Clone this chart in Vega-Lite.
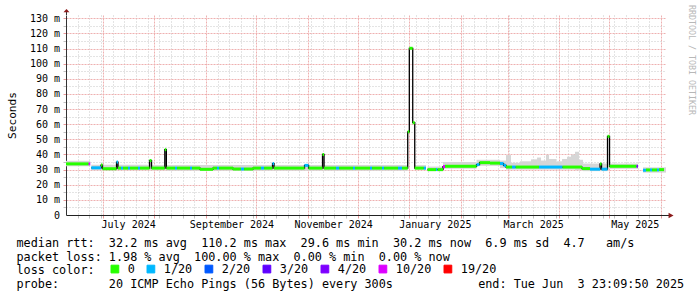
{
  "$schema": "https://vega.github.io/schema/vega-lite/v6.json",
  "width": 600,
  "height": 200,
  "autosize": {"type": "none"},
  "padding": {"left": 66, "top": 15, "right": 31, "bottom": 82},
  "background": "#ffffff",
  "config": {"view": {"stroke": null}},
  "title": {"text": "RRDTOOL / TOBI OETIKER", "orient": "right", "anchor": "start", "frame": "group", "offset": -1, "baseline": "middle", "font": "DejaVu Sans Mono", "fontSize": 8.3, "fontWeight": "normal", "color": "#b8b8b8", "dx": -10},
  "resolve": {"axis": {"x": "independent", "y": "independent"}},
  "datasets": {
    "median": [
      {"t0":"2024-06-08T23:10Z","t1":"2024-06-22T13:00Z","med":33.8,"loss":"0"},
      {"t0":"2024-06-22T13:00Z","t1":"2024-06-23T12:00Z","med":33.8,"loss":"10/20"},
      {"t0":"2024-06-23T12:00Z","t1":null,"med":null,"loss":null},
      {"t0":"2024-06-24T04:00Z","t1":"2024-06-29T23:30Z","med":31.2,"loss":"1/20"},
      {"t0":"2024-06-29T23:30Z","t1":"2024-06-30T21:00Z","med":33.0,"loss":"0"},
      {"t0":"2024-06-30T21:00Z","t1":"2024-07-09T07:00Z","med":30.6,"loss":"0"},
      {"t0":"2024-07-09T07:00Z","t1":"2024-07-10T04:00Z","med":35.0,"loss":"1/20"},
      {"t0":"2024-07-10T04:00Z","t1":"2024-07-11T23:30Z","med":31.0,"loss":"0"},
      {"t0":"2024-07-11T23:30Z","t1":"2024-07-13T04:00Z","med":31.0,"loss":"1/20"},
      {"t0":"2024-07-13T04:00Z","t1":"2024-07-16T04:00Z","med":31.0,"loss":"0"},
      {"t0":"2024-07-16T04:00Z","t1":"2024-07-17T09:00Z","med":31.0,"loss":"1/20"},
      {"t0":"2024-07-17T09:00Z","t1":"2024-07-22T04:00Z","med":31.0,"loss":"0"},
      {"t0":"2024-07-22T04:00Z","t1":"2024-07-23T09:00Z","med":31.0,"loss":"1/20"},
      {"t0":"2024-07-23T09:00Z","t1":"2024-07-29T02:00Z","med":31.0,"loss":"0"},
      {"t0":"2024-07-29T02:00Z","t1":"2024-07-30T07:00Z","med":36.0,"loss":"0"},
      {"t0":"2024-07-30T07:00Z","t1":"2024-08-07T06:00Z","med":31.0,"loss":"0"},
      {"t0":"2024-08-07T06:00Z","t1":"2024-08-08T04:00Z","med":43.2,"loss":"0"},
      {"t0":"2024-08-08T04:00Z","t1":"2024-08-13T09:00Z","med":31.0,"loss":"0"},
      {"t0":"2024-08-13T09:00Z","t1":"2024-08-14T14:00Z","med":31.0,"loss":"1/20"},
      {"t0":"2024-08-14T14:00Z","t1":"2024-08-22T09:00Z","med":31.0,"loss":"0"},
      {"t0":"2024-08-22T09:00Z","t1":"2024-08-23T14:00Z","med":31.0,"loss":"1/20"},
      {"t0":"2024-08-23T14:00Z","t1":"2024-08-28T09:00Z","med":31.0,"loss":"0"},
      {"t0":"2024-08-28T09:00Z","t1":"2024-09-05T04:00Z","med":30.2,"loss":"0"},
      {"t0":"2024-09-05T04:00Z","t1":"2024-09-07T14:00Z","med":31.0,"loss":"0"},
      {"t0":"2024-09-07T14:00Z","t1":"2024-09-08T19:00Z","med":31.0,"loss":"1/20"},
      {"t0":"2024-09-08T19:00Z","t1":"2024-09-17T04:00Z","med":31.0,"loss":"0"},
      {"t0":"2024-09-17T04:00Z","t1":"2024-09-21T23:30Z","med":30.4,"loss":"0"},
      {"t0":"2024-09-21T23:30Z","t1":"2024-09-23T19:00Z","med":30.4,"loss":"1/20"},
      {"t0":"2024-09-23T19:00Z","t1":"2024-09-29T04:00Z","med":30.4,"loss":"0"},
      {"t0":"2024-09-29T04:00Z","t1":"2024-10-03T23:30Z","med":31.0,"loss":"0"},
      {"t0":"2024-10-03T23:30Z","t1":"2024-10-05T19:00Z","med":31.0,"loss":"1/20"},
      {"t0":"2024-10-05T19:00Z","t1":"2024-10-10T21:00Z","med":31.0,"loss":"0"},
      {"t0":"2024-10-10T21:00Z","t1":"2024-10-11T19:00Z","med":34.0,"loss":"1/20"},
      {"t0":"2024-10-11T19:00Z","t1":"2024-10-30T02:00Z","med":31.0,"loss":"0"},
      {"t0":"2024-10-30T02:00Z","t1":"2024-11-01T12:00Z","med":32.8,"loss":"1/20"},
      {"t0":"2024-11-01T12:00Z","t1":"2024-11-09T21:00Z","med":31.0,"loss":"0"},
      {"t0":"2024-11-09T21:00Z","t1":"2024-11-10T19:00Z","med":40.0,"loss":"0"},
      {"t0":"2024-11-10T19:00Z","t1":"2024-11-17T23:30Z","med":31.0,"loss":"0"},
      {"t0":"2024-11-17T23:30Z","t1":"2024-11-19T19:00Z","med":31.0,"loss":"1/20"},
      {"t0":"2024-11-19T19:00Z","t1":"2024-11-28T04:00Z","med":31.0,"loss":"0"},
      {"t0":"2024-11-28T04:00Z","t1":"2024-11-29T09:00Z","med":31.0,"loss":"1/20"},
      {"t0":"2024-11-29T09:00Z","t1":"2024-12-08T09:00Z","med":31.0,"loss":"0"},
      {"t0":"2024-12-08T09:00Z","t1":"2024-12-09T14:00Z","med":31.0,"loss":"1/20"},
      {"t0":"2024-12-09T14:00Z","t1":"2024-12-15T14:00Z","med":31.0,"loss":"0"},
      {"t0":"2024-12-15T14:00Z","t1":"2024-12-16T19:00Z","med":31.0,"loss":"1/20"},
      {"t0":"2024-12-16T19:00Z","t1":"2024-12-25T04:00Z","med":31.0,"loss":"0"},
      {"t0":"2024-12-25T04:00Z","t1":"2024-12-27T14:00Z","med":31.0,"loss":"1/20"},
      {"t0":"2024-12-27T14:00Z","t1":"2024-12-31T00:00Z","med":31.0,"loss":"0"},
      {"t0":"2024-12-31T00:00Z","t1":"2024-12-31T23:00Z","med":55.0,"loss":"0"},
      {"t0":"2024-12-31T23:00Z","t1":"2025-01-03T00:00Z","med":110.2,"loss":"0"},
      {"t0":"2025-01-03T00:00Z","t1":"2025-01-04T05:00Z","med":61.0,"loss":"0"},
      {"t0":"2025-01-04T05:00Z","t1":"2025-01-09T16:00Z","med":31.0,"loss":"0"},
      {"t0":"2025-01-09T16:00Z","t1":"2025-01-10T23:30Z","med":31.0,"loss":"1/20"},
      {"t0":"2025-01-10T23:30Z","t1":null,"med":null,"loss":null},
      {"t0":"2025-01-11T21:00Z","t1":"2025-01-16T23:30Z","med":30.0,"loss":"0"},
      {"t0":"2025-01-16T23:30Z","t1":"2025-01-17T21:00Z","med":30.0,"loss":"1/20"},
      {"t0":"2025-01-17T21:00Z","t1":"2025-01-21T04:00Z","med":30.0,"loss":"0"},
      {"t0":"2025-01-21T04:00Z","t1":"2025-01-22T09:00Z","med":32.0,"loss":"10/20"},
      {"t0":"2025-01-22T09:00Z","t1":"2025-02-10T07:00Z","med":32.2,"loss":"0"},
      {"t0":"2025-02-10T07:00Z","t1":"2025-02-12T02:00Z","med":33.3,"loss":"1/20"},
      {"t0":"2025-02-12T02:00Z","t1":"2025-02-18T09:00Z","med":34.6,"loss":"0"},
      {"t0":"2025-02-18T09:00Z","t1":"2025-02-24T09:00Z","med":34.3,"loss":"0"},
      {"t0":"2025-02-24T09:00Z","t1":"2025-02-26T12:00Z","med":34.0,"loss":"1/20"},
      {"t0":"2025-02-26T12:00Z","t1":"2025-02-27T23:30Z","med":32.8,"loss":"1/20"},
      {"t0":"2025-02-27T23:30Z","t1":"2025-03-03T14:00Z","med":31.7,"loss":"0"},
      {"t0":"2025-03-03T14:00Z","t1":"2025-03-05T19:00Z","med":31.7,"loss":"1/20"},
      {"t0":"2025-03-05T19:00Z","t1":"2025-03-19T19:00Z","med":31.7,"loss":"0"},
      {"t0":"2025-03-19T19:00Z","t1":"2025-04-02T21:00Z","med":31.7,"loss":"1/20"},
      {"t0":"2025-04-02T21:00Z","t1":"2025-04-14T14:00Z","med":31.7,"loss":"0"},
      {"t0":"2025-04-14T14:00Z","t1":"2025-04-19T09:00Z","med":30.7,"loss":"0"},
      {"t0":"2025-04-19T09:00Z","t1":"2025-04-25T09:00Z","med":30.3,"loss":"1/20"},
      {"t0":"2025-04-25T09:00Z","t1":"2025-04-26T07:00Z","med":33.7,"loss":"0"},
      {"t0":"2025-04-26T07:00Z","t1":"2025-04-29T21:00Z","med":30.3,"loss":"1/20"},
      {"t0":"2025-04-29T21:00Z","t1":"2025-05-01T02:00Z","med":52.0,"loss":"0"},
      {"t0":"2025-05-01T02:00Z","t1":"2025-05-17T07:00Z","med":32.2,"loss":"0"},
      {"t0":"2025-05-17T07:00Z","t1":"2025-05-18T04:00Z","med":32.2,"loss":"4/20"},
      {"t0":"2025-05-18T04:00Z","t1":null,"med":null,"loss":null},
      {"t0":"2025-05-21T04:00Z","t1":"2025-05-22T23:30Z","med":29.6,"loss":"1/20"},
      {"t0":"2025-05-22T23:30Z","t1":"2025-05-25T09:00Z","med":29.8,"loss":"0"},
      {"t0":"2025-05-25T09:00Z","t1":"2025-05-26T14:00Z","med":29.8,"loss":"1/20"},
      {"t0":"2025-05-26T14:00Z","t1":"2025-05-29T14:00Z","med":29.8,"loss":"0"},
      {"t0":"2025-05-29T14:00Z","t1":"2025-05-30T19:00Z","med":29.8,"loss":"1/20"},
      {"t0":"2025-05-30T19:00Z","t1":"2025-06-02T19:00Z","med":30.0,"loss":"0"}
    ],
    "smoke": [
      {"t0":"2024-06-08T23:10Z","t1":"2024-06-23T12:00Z","lo":32.2,"hi":35.8},
      {"t0":"2024-06-24T04:00Z","t1":"2024-07-29T02:00Z","lo":29.5,"hi":33.2},
      {"t0":"2024-07-29T02:00Z","t1":"2024-07-30T07:00Z","lo":29.5,"hi":36.8},
      {"t0":"2024-07-30T07:00Z","t1":"2024-08-07T06:00Z","lo":29.5,"hi":33.0},
      {"t0":"2024-08-07T06:00Z","t1":"2024-08-08T04:00Z","lo":29.5,"hi":44.0},
      {"t0":"2024-08-08T04:00Z","t1":"2024-12-31T00:00Z","lo":29.3,"hi":33.0},
      {"t0":"2025-01-04T05:00Z","t1":"2025-01-10T23:30Z","lo":29.8,"hi":33.0},
      {"t0":"2025-01-11T21:00Z","t1":"2025-01-21T04:00Z","lo":29.0,"hi":32.0},
      {"t0":"2025-01-21T04:00Z","t1":"2025-02-10T07:00Z","lo":30.5,"hi":35.0},
      {"t0":"2025-02-10T07:00Z","t1":"2025-02-24T09:00Z","lo":32.5,"hi":36.5},
      {"t0":"2025-02-24T09:00Z","t1":"2025-02-27T23:30Z","lo":31.0,"hi":36.0},
      {"t0":"2025-02-27T23:30Z","t1":"2025-03-02T23:30Z","lo":30.0,"hi":39.6},
      {"t0":"2025-03-02T23:30Z","t1":"2025-03-08T09:00Z","lo":30.0,"hi":34.5},
      {"t0":"2025-03-08T09:00Z","t1":"2025-03-14T23:30Z","lo":30.0,"hi":35.5},
      {"t0":"2025-03-14T23:30Z","t1":"2025-03-18T14:00Z","lo":30.0,"hi":36.8},
      {"t0":"2025-03-18T14:00Z","t1":"2025-03-20T23:30Z","lo":30.0,"hi":38.0},
      {"t0":"2025-03-20T23:30Z","t1":"2025-03-23T23:30Z","lo":30.0,"hi":36.0},
      {"t0":"2025-03-23T23:30Z","t1":"2025-03-25T19:00Z","lo":30.0,"hi":39.8},
      {"t0":"2025-03-25T19:00Z","t1":"2025-03-29T23:30Z","lo":30.0,"hi":37.0},
      {"t0":"2025-03-29T23:30Z","t1":"2025-04-02T14:00Z","lo":30.0,"hi":35.5},
      {"t0":"2025-04-02T14:00Z","t1":"2025-04-05T14:00Z","lo":30.0,"hi":37.0},
      {"t0":"2025-04-05T14:00Z","t1":"2025-04-07T23:30Z","lo":30.0,"hi":38.5},
      {"t0":"2025-04-07T23:30Z","t1":"2025-04-10T09:00Z","lo":30.0,"hi":40.0},
      {"t0":"2025-04-10T09:00Z","t1":"2025-04-12T19:00Z","lo":29.5,"hi":41.8},
      {"t0":"2025-04-12T19:00Z","t1":"2025-04-15T04:00Z","lo":29.5,"hi":36.5},
      {"t0":"2025-04-15T04:00Z","t1":"2025-04-29T21:00Z","lo":29.0,"hi":34.0},
      {"t0":"2025-05-01T02:00Z","t1":"2025-05-18T04:00Z","lo":30.5,"hi":34.0},
      {"t0":"2025-05-21T04:00Z","t1":"2025-06-03T23:09Z","lo":28.0,"hi":31.5}
    ]
  },
  "layer": [
    {
      "data": {"name": "smoke"},
      "mark": {"type": "rect", "color": "#d6d6d6"},
      "encoding": {
        "x": {
          "field": "t0", "type": "temporal",
          "scale": {"type": "utc", "domain": [{"year":2024,"month":6,"date":8,"hours":23,"minutes":9,"seconds":50,"utc":true}, {"year":2025,"month":6,"date":3,"hours":23,"minutes":9,"seconds":50,"utc":true}]},
          "axis": {
            "orient": "bottom",
            "values": [
              {"year":2024,"month":6,"date":16,"utc":true},{"year":2024,"month":6,"date":23,"utc":true},{"year":2024,"month":6,"date":30,"utc":true},
              {"year":2024,"month":7,"date":1,"utc":true},{"year":2024,"month":7,"date":7,"utc":true},{"year":2024,"month":7,"date":14,"utc":true},{"year":2024,"month":7,"date":21,"utc":true},{"year":2024,"month":7,"date":28,"utc":true},
              {"year":2024,"month":8,"date":1,"utc":true},{"year":2024,"month":8,"date":4,"utc":true},{"year":2024,"month":8,"date":11,"utc":true},{"year":2024,"month":8,"date":18,"utc":true},{"year":2024,"month":8,"date":25,"utc":true},
              {"year":2024,"month":9,"date":1,"utc":true},{"year":2024,"month":9,"date":8,"utc":true},{"year":2024,"month":9,"date":15,"utc":true},{"year":2024,"month":9,"date":22,"utc":true},{"year":2024,"month":9,"date":29,"utc":true},
              {"year":2024,"month":10,"date":1,"utc":true},{"year":2024,"month":10,"date":6,"utc":true},{"year":2024,"month":10,"date":13,"utc":true},{"year":2024,"month":10,"date":20,"utc":true},{"year":2024,"month":10,"date":27,"utc":true},
              {"year":2024,"month":11,"date":1,"utc":true},{"year":2024,"month":11,"date":3,"utc":true},{"year":2024,"month":11,"date":10,"utc":true},{"year":2024,"month":11,"date":17,"utc":true},{"year":2024,"month":11,"date":24,"utc":true},
              {"year":2024,"month":12,"date":1,"utc":true},{"year":2024,"month":12,"date":8,"utc":true},{"year":2024,"month":12,"date":15,"utc":true},{"year":2024,"month":12,"date":22,"utc":true},{"year":2024,"month":12,"date":29,"utc":true},
              {"year":2025,"month":1,"date":1,"utc":true},{"year":2025,"month":1,"date":5,"utc":true},{"year":2025,"month":1,"date":12,"utc":true},{"year":2025,"month":1,"date":19,"utc":true},{"year":2025,"month":1,"date":26,"utc":true},
              {"year":2025,"month":2,"date":1,"utc":true},{"year":2025,"month":2,"date":2,"utc":true},{"year":2025,"month":2,"date":9,"utc":true},{"year":2025,"month":2,"date":16,"utc":true},{"year":2025,"month":2,"date":23,"utc":true},
              {"year":2025,"month":3,"date":1,"utc":true},{"year":2025,"month":3,"date":2,"utc":true},{"year":2025,"month":3,"date":9,"utc":true},{"year":2025,"month":3,"date":16,"utc":true},{"year":2025,"month":3,"date":23,"utc":true},{"year":2025,"month":3,"date":30,"utc":true},
              {"year":2025,"month":4,"date":1,"utc":true},{"year":2025,"month":4,"date":6,"utc":true},{"year":2025,"month":4,"date":13,"utc":true},{"year":2025,"month":4,"date":20,"utc":true},{"year":2025,"month":4,"date":27,"utc":true},
              {"year":2025,"month":5,"date":1,"utc":true},{"year":2025,"month":5,"date":4,"utc":true},{"year":2025,"month":5,"date":11,"utc":true},{"year":2025,"month":5,"date":18,"utc":true},{"year":2025,"month":5,"date":25,"utc":true},
              {"year":2025,"month":6,"date":1,"utc":true}
            ],
            "labels": false, "domain": false, "title": null,
            "ticks": true, "tickSize": 3, "tickWidth": 1,
            "tickColor": {"condition": {"test": "utcdate(datum.value) === 1", "value": "#e89a9a"}, "value": "#c0c0c0"},
            "grid": true, "gridWidth": 1,
            "gridDash": {"condition": {"test": "utcdate(datum.value) === 1", "value": [2, 1]}, "value": [1, 2]},
            "gridColor": {"condition": {"test": "utcdate(datum.value) === 1", "value": "#eeb0b0"}, "value": "#c8c8c8"}
          }
        },
        "x2": {"field": "t1"},
        "y": {
          "field": "lo", "type": "quantitative",
          "scale": {"domain": [0, 132.2], "nice": false, "zero": false},
          "axis": {
            "orient": "left",
            "values": [5,10,15,20,25,30,35,40,45,50,55,60,65,70,75,80,85,90,95,100,105,110,115,120,125,130],
            "labels": false, "domain": false, "title": null,
            "ticks": true, "tickSize": 3, "tickWidth": 1,
            "tickColor": {"condition": {"test": "datum.value % 10 === 0", "value": "#e89a9a"}, "value": "#c0c0c0"},
            "grid": true, "gridWidth": 1,
            "gridDash": {"condition": {"test": "datum.value % 10 === 0", "value": [2, 1]}, "value": [1, 2]},
            "gridColor": {"condition": {"test": "datum.value % 10 === 0", "value": "#eeb0b0"}, "value": "#c8c8c8"}
          }
        },
        "y2": {"field": "hi"}
      }
    },
    {
      "data": {"name": "median"},
      "mark": {"type": "line", "interpolate": "step-after", "color": "#000000", "strokeWidth": 1.3},
      "encoding": {
        "x": {"field": "t0", "type": "temporal", "scale": {"type": "utc", "domain": [{"year":2024,"month":6,"date":8,"hours":23,"minutes":9,"seconds":50,"utc":true}, {"year":2025,"month":6,"date":3,"hours":23,"minutes":9,"seconds":50,"utc":true}]},
          "axis": {"orient": "bottom", "labels": false, "ticks": false, "domain": false, "grid": false, "title": null}},
        "y": {"field": "med", "type": "quantitative", "scale": {"domain": [0, 132.2], "nice": false, "zero": false},
          "axis": {"orient": "left", "labels": false, "ticks": false, "domain": false, "grid": false, "title": null}}
      }
    },
    {
      "data": {"name": "median"},
      "mark": {"type": "rule", "strokeWidth": 3, "strokeCap": "butt"},
      "encoding": {
        "x": {
          "field": "t0", "type": "temporal",
          "scale": {"type": "utc", "domain": [{"year":2024,"month":6,"date":8,"hours":23,"minutes":9,"seconds":50,"utc":true}, {"year":2025,"month":6,"date":3,"hours":23,"minutes":9,"seconds":50,"utc":true}]},
          "axis": {
            "orient": "bottom",
            "values": [
              {"year":2024,"month":7,"date":16,"hours":6,"utc":true},{"year":2024,"month":9,"date":16,"hours":6,"utc":true},{"year":2024,"month":11,"date":16,"hours":6,"utc":true},
              {"year":2025,"month":1,"date":16,"hours":6,"utc":true},{"year":2025,"month":3,"date":16,"hours":6,"utc":true},{"year":2025,"month":5,"date":16,"hours":6,"utc":true}
            ],
            "labelExpr": "utcFormat(datum.value, '%B %Y')",
            "labelFont": "DejaVu Sans Mono", "labelFontSize": 10, "labelColor": "#000000", "labelBaseline": "middle", "labelPadding": 9, "labelOverlap": false, "labelFlush": false, "labelBound": false, "labelAngle": 0, "labelAlign": "center",
            "ticks": false, "grid": false,
            "domain": true, "domainColor": "#222222", "domainWidth": 1,
            "title": [
              "median\u00a0rtt:\u00a0\u00a032.2\u00a0ms\u00a0avg\u00a0\u00a0110.2\u00a0ms\u00a0max\u00a0\u00a029.6\u00a0ms\u00a0min\u00a0\u00a030.2\u00a0ms\u00a0now\u00a0\u00a06.9\u00a0ms\u00a0sd\u00a0\u00a04.7\u00a0\u00a0\u00a0am/s",
              "packet\u00a0loss:\u00a01.98\u00a0%\u00a0avg\u00a0\u00a0100.00\u00a0%\u00a0max\u00a0\u00a00.00\u00a0%\u00a0min\u00a0\u00a00.00\u00a0%\u00a0now",
              "loss\u00a0color:",
              "probe:\u00a0\u00a0\u00a0\u00a0\u00a0\u00a0\u00a020\u00a0ICMP\u00a0Echo\u00a0Pings\u00a0(56\u00a0Bytes)\u00a0every\u00a0300s\u00a0\u00a0\u00a0\u00a0\u00a0\u00a0\u00a0\u00a0\u00a0\u00a0\u00a0\u00a0end:\u00a0Tue\u00a0Jun\u00a0\u00a03\u00a023:09:50\u00a02025"
            ],
            "titleFont": "DejaVu Sans Mono", "titleFontSize": 11.8, "titleFontWeight": "normal", "titleColor": "#000000",
            "titleAlign": "left", "titleAnchor": "start", "titleBaseline": "alphabetic", "titleAngle": 0,
            "titleX": -50, "titleY": 31.2, "titleLineHeight": 13.85, "titleLimit": 1000
          }
        },
        "x2": {"field": "t1"},
        "y": {
          "field": "med", "type": "quantitative",
          "scale": {"domain": [0, 132.2], "nice": false, "zero": false},
          "axis": {
            "orient": "left",
            "values": [0,10,20,30,40,50,60,70,80,90,100,110,120,130],
            "labelExpr": "datum.value === 0 ? '0' : datum.value + ' m'",
            "labelFont": "DejaVu Sans Mono", "labelFontSize": 10, "labelColor": "#000000", "labelPadding": 6.5, "labelOverlap": false, "labelBound": false, "labelFlush": false,
            "ticks": false, "grid": false,
            "domain": true, "domainColor": "#333333", "domainWidth": 1,
            "title": "Seconds", "titleFont": "DejaVu Sans Mono", "titleFontSize": 11.2, "titleFontWeight": "normal", "titleColor": "#000000",
            "titleX": -51, "titleY": 100, "titleAngle": 270, "titleAlign": "center", "titleBaseline": "alphabetic"
          }
        },
        "color": {
          "field": "loss", "type": "nominal",
          "scale": {"domain": ["0", "1/20", "2/20", "3/20", "4/20", "10/20", "19/20"], "range": ["#26ff00", "#00b8ff", "#0059ff", "#5e00ff", "#7e00ff", "#dd00ff", "#ff0000"]},
          "legend": {
            "orient": "none", "legendX": 43, "legendY": 248, "direction": "horizontal", "columns": 7,
            "title": null,
            "labelFont": "DejaVu Sans Mono", "labelFontSize": 11.8, "labelColor": "#000000", "labelOffset": 7,
            "columnPadding": 10, "rowPadding": 0, "padding": 0, "offset": 0,
            "symbolType": "square", "symbolSize": 60, "symbolStrokeColor": "#000000", "symbolStrokeWidth": 1,
            "encode": {"symbols": {"update": {"fill": {"scale": "color", "field": "value"}, "stroke": {"value": "#000000"}, "fillOpacity": {"value": 1}, "strokeWidth": {"value": 1}}}}
          }
        }
      }
    },
    {
      "data": {"values": [{}]},
      "mark": {"type": "rule", "color": "#333333", "strokeWidth": 1},
      "encoding": {
        "x": {"datum": {"year":2024,"month":6,"date":9,"hours":6,"minutes":20,"utc":true}, "type": "temporal", "axis": {"orient": "bottom", "labels": false, "ticks": false, "domain": false, "grid": false, "title": null}},
        "y": {"datum": 132.2, "type": "quantitative", "axis": {"orient": "left", "labels": false, "ticks": false, "domain": false, "grid": false, "title": null}},
        "y2": {"datum": 134.6}
      }
    },
    {
      "data": {"values": [{}]},
      "mark": {"type": "point", "shape": "M0,-0.55L1,0.55L-1,0.55Z", "filled": true, "size": 36, "color": "#8b1a1a", "opacity": 1, "strokeWidth": 0},
      "encoding": {
        "x": {"datum": {"year":2024,"month":6,"date":9,"hours":6,"minutes":20,"utc":true}, "type": "temporal", "axis": {"orient": "bottom", "labels": false, "ticks": false, "domain": false, "grid": false, "title": null}},
        "y": {"datum": 135.08, "type": "quantitative", "axis": {"orient": "left", "labels": false, "ticks": false, "domain": false, "grid": false, "title": null}}
      }
    },
    {
      "data": {"values": [{}]},
      "mark": {"type": "rule", "color": "#222222", "strokeWidth": 1},
      "encoding": {
        "x": {"datum": {"year":2025,"month":6,"date":3,"hours":23,"minutes":9,"seconds":50,"utc":true}, "type": "temporal", "axis": {"orient": "bottom", "labels": false, "ticks": false, "domain": false, "grid": false, "title": null}},
        "x2": {"datum": {"year":2025,"month":6,"date":6,"hours":0,"utc":true}},
        "y": {"datum": -0.33, "type": "quantitative", "axis": {"orient": "left", "labels": false, "ticks": false, "domain": false, "grid": false, "title": null}}
      }
    },
    {
      "data": {"values": [{}]},
      "mark": {"type": "point", "shape": "M1,0L-0.8,-1L-0.8,1Z", "filled": true, "size": 31, "color": "#8b1a1a", "opacity": 1, "strokeWidth": 0},
      "encoding": {
        "x": {"datum": {"year":2025,"month":6,"date":6,"hours":20,"utc":true}, "type": "temporal", "axis": {"orient": "bottom", "labels": false, "ticks": false, "domain": false, "grid": false, "title": null}},
        "y": {"datum": -0.33, "type": "quantitative", "axis": {"orient": "left", "labels": false, "ticks": false, "domain": false, "grid": false, "title": null}}
      }
    }
  ]
}
